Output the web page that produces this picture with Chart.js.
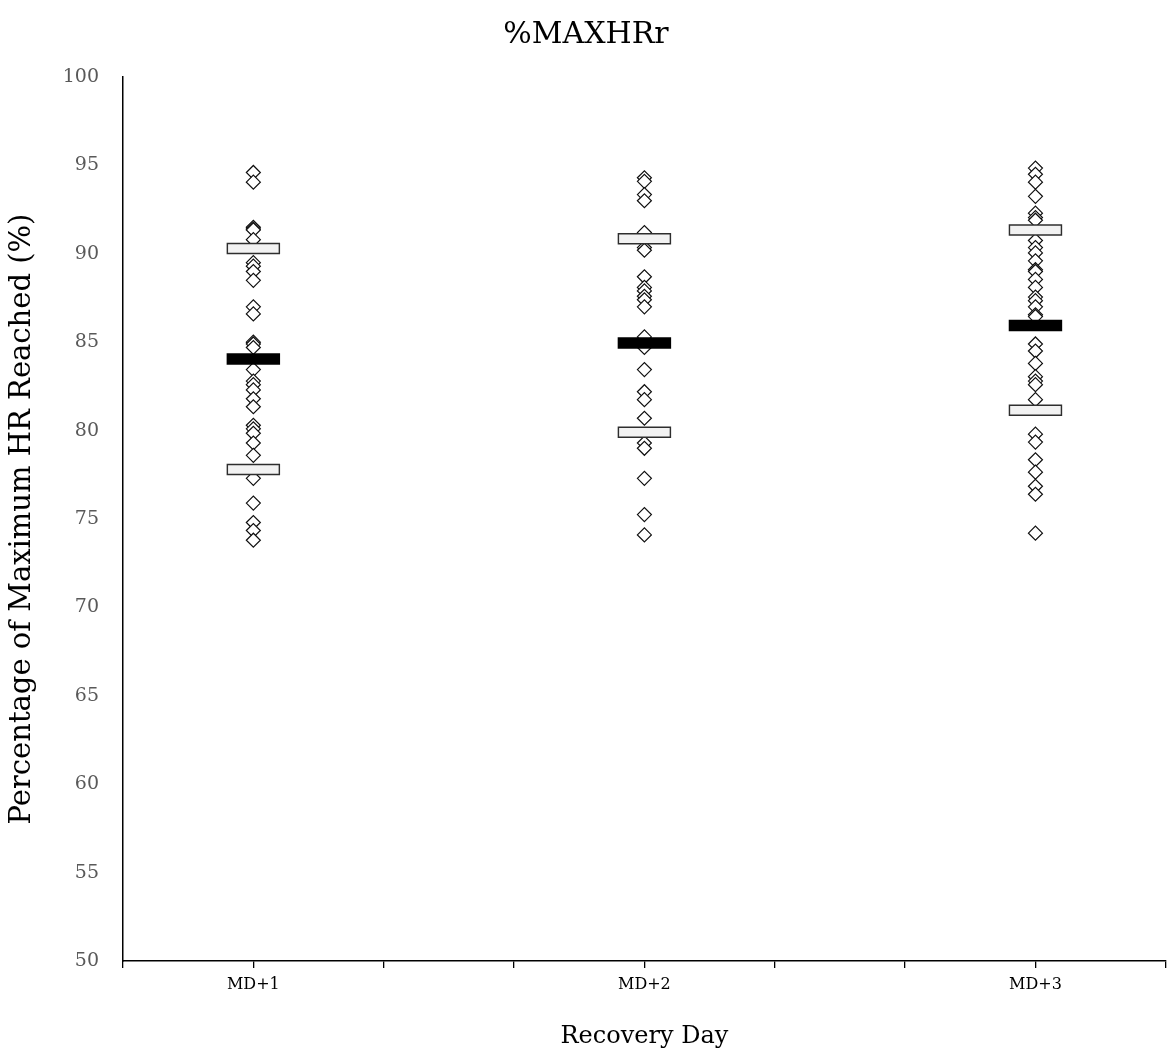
<!DOCTYPE html>
<html>
<head>
<meta charset="utf-8">
<script src="https://cdn.jsdelivr.net/npm/chart.js@4.4.0/dist/chart.umd.min.js"></script>
<style>
  body { margin: 0; background: #fff; }
  #wrap { width: 1174px; height: 1059px; }
</style>
</head>
<body>
<div id="wrap"><canvas id="chart" width="1174" height="1059"></canvas></div>
<script>
var categories = ["MD+1", "MD+2", "MD+3"];
var categoryX = [1, 4, 7];

var md1Values = [94.6, 94.05, 91.5, 91.4, 91.35, 90.8, 89.5, 89.3, 89.0, 88.5, 87.0, 86.6,
  85.0, 84.9, 84.7, 83.45, 82.8, 82.6, 82.3, 81.8, 81.35, 80.3, 80.1, 79.85, 79.3, 78.6,
  77.3, 75.9, 74.8, 74.35, 73.8];
var md2Values = [94.3, 94.1, 93.35, 93.0, 91.2, 90.35, 90.2, 88.7, 88.1, 87.9, 87.6, 87.4,
  87.0, 85.3, 84.7, 83.45, 82.2, 81.75, 80.7, 79.3, 79.0, 77.3, 75.25, 74.1];
var md3Values = [94.85, 94.5, 94.05, 93.25, 92.3, 92.05, 91.9, 90.75, 90.35, 90.05, 89.6,
  89.1, 89.0, 88.55, 88.1, 87.55, 87.35, 87.0, 86.55, 86.45, 84.9, 84.5, 83.8, 83.05, 82.8,
  82.6, 81.75, 79.8, 79.35, 78.35, 77.65, 76.85, 76.4, 74.2];

var lowerQuartile = [77.8, 79.9, 81.15];
var medians = [84.05, 84.95, 85.95];
var upperQuartile = [90.3, 90.85, 91.35];

var FONT = "'DejaVu Serif', 'Liberation Serif', serif";
var halfW = 0.205; // half box width in x units

function points(values, x) {
  return values.map(function (v) { return { x: x, y: v }; });
}

// one short line segment per group, drawn as a thick line
function segment(x, y, inset) {
  return [{ x: x - halfW + inset, y: y }, { x: x + halfW - inset, y: y }];
}

var datasets = [];
for (let i = 0; i < categories.length; i++) {
  // quartile boxes: dark outline line then light fill line on top
  [lowerQuartile[i], upperQuartile[i]].forEach(function (q) {
    datasets.push({
      type: "line", data: segment(categoryX[i], q, 0.011), borderColor: "#f2f2f2",
      borderWidth: 8.5, borderCapStyle: "butt", pointRadius: 0, order: 0,
    });
    datasets.push({
      type: "line", data: segment(categoryX[i], q, 0), borderColor: "#2e2e2e",
      borderWidth: 11.5, borderCapStyle: "butt", pointRadius: 0, order: 1,
    });
  });
  datasets.push({
    type: "line", data: segment(categoryX[i], medians[i], 0), borderColor: "#000000",
    borderWidth: 11.5, borderCapStyle: "butt", pointRadius: 0, order: 0,
  });
}

[md1Values, md2Values, md3Values].forEach(function (vals, i) {
  datasets.push({
    type: "scatter",
    label: categories[i],
    data: points(vals, categoryX[i]),
    pointStyle: "rectRot",
    pointRadius: 7,
    pointBackgroundColor: "#ffffff",
    pointBorderColor: "#111111",
    pointBorderWidth: 1.2,
    order: 2,
  });
});

var config = {
  type: "scatter",
  data: { datasets: datasets },
  options: {
    responsive: false,
    animation: false,
    layout: { padding: { left: 0, right: 2, top: 0, bottom: 0 } },
    plugins: {
      legend: { display: false },
      tooltip: { enabled: false },
      title: {
        display: true,
        text: "%MAXHRr",
        color: "#000000",
        font: { family: FONT, size: 30, weight: "normal" },
        padding: { top: 17, bottom: 24 },
      },
    },
    scales: {
      x: {
        type: "linear",
        min: 0,
        max: 8,
        afterFit: function (s) { s.height = 98; },
        grid: { display: true, drawOnChartArea: false, drawTicks: true, tickLength: 7, color: "#000000", lineWidth: 1.3 },
        border: { display: true, color: "#000000", width: 1.5 },
        ticks: {
          stepSize: 1,
          autoSkip: false,
          maxRotation: 0,
          padding: 7,
          color: "#000000",
          font: { family: FONT, size: 16 },
          callback: function (v) {
            var k = categoryX.indexOf(v);
            return k >= 0 ? categories[k] : "";
          },
        },
        title: {
          display: true,
          text: "Recovery Day",
          color: "#000000",
          font: { family: FONT, size: 24 },
          padding: { top: 4, bottom: 8 },
        },
      },
      y: {
        min: 50,
        max: 100,
        afterFit: function (s) { s.width = 123; },
        grid: { display: false },
        border: { display: true, color: "#000000", width: 1.5 },
        ticks: {
          stepSize: 5,
          padding: 16,
          color: "#595959",
          font: { family: FONT, size: 19 },
        },
        title: {
          display: true,
          text: "Percentage of Maximum HR Reached (%)",
          color: "#000000",
          font: { family: FONT, size: 29 },
          padding: { top: 5, bottom: 4 },
        },
      },
    },
  },
};

var ctx = document.getElementById("chart").getContext("2d");
window.chart = new Chart(ctx, config);
</script>
</body>
</html>
